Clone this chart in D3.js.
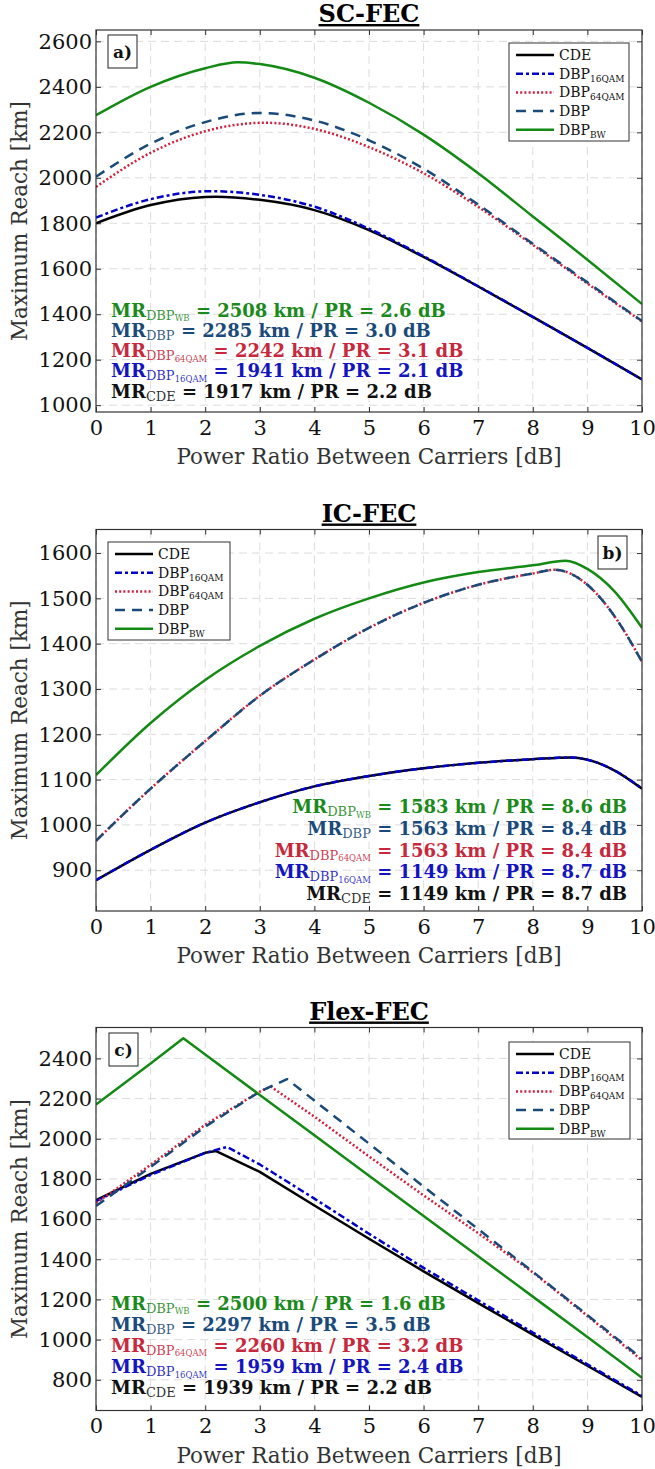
<!DOCTYPE html>
<html><head><meta charset="utf-8">
<script src="https://cdn.jsdelivr.net/npm/d3@7"></script>
<style>body{margin:0;background:#fff} svg{display:block} text{white-space:pre}</style>
</head><body>
<script>
// ---------- DATA ----------
const xTicks = [0,1,2,3,4,5,6,7,8,9,10];
const panelTitles = ["SC-FEC","IC-FEC","Flex-FEC"];
const panelLabels = ["a)","b)","c)"];
const yTicksA = [1000,1200,1400,1600,1800,2000,2200,2400,2600];
const yTicksB = [900,1000,1100,1200,1300,1400,1500,1600];
const yTicksC = [800,1000,1200,1400,1600,1800,2000,2200,2400];
const seriesNames = ["CDE","DBP16QAM","DBP64QAM","DBP","DBPBW"];
const legendMain = ["CDE","DBP","DBP","DBP","DBP"];
const legendSub  = ["","16QAM","64QAM","","BW"];
// annotation order: BW, DBP, DBP64, DBP16, CDE
const noteSub1 = ["DBP","DBP","DBP","DBP","CDE"];
const noteSub2 = ["WB","","64QAM","16QAM",""];

// Panel a (SC-FEC)
const scCDE   = [[0,1800],[1,1880],[2,1916],[2.2,1917],[3,1903],[4,1858],[5,1770],[6,1652],[7,1522],[8,1388],[9,1252],[10,1113]];
const scDBP16 = [[0,1825],[1,1906],[2.1,1941],[3,1925],[4,1873],[5,1776],[6,1655],[7,1523],[8,1388],[9,1252],[10,1113]];
const scDBP64 = [[0,1960],[1,2110],[2,2205],[3.1,2242],[4,2215],[5,2135],[6,2020],[7,1872],[8,1705],[9,1535],[10,1368]];
const scDBP   = [[0,2005],[1,2150],[2,2245],[3,2285],[4,2252],[5,2165],[6,2040],[7,1882],[8,1710],[9,1540],[10,1370]];
const scBW    = [[0,2275],[1,2400],[2,2482],[2.6,2508],[3,2500],[4,2440],[5,2330],[6,2190],[7,2020],[8,1830],[9,1640],[10,1445]];
const scMR = [2508,2285,2242,1941,1917];
const scPR = ["2.6","3.0","3.1","2.1","2.2"];

// Panel b (IC-FEC)
const icCDE   = [[0,878],[1,945],[2,1005],[3,1050],[4,1085],[5,1108],[6,1125],[7,1137],[8,1145],[8.7,1149],[9,1144],[9.5,1120],[10,1080]];
const icDBP16 = [[0,878],[1,945],[2,1005],[3,1050],[4,1085],[5,1108],[6,1125],[7,1137],[8,1145],[8.7,1149],[9,1144],[9.5,1120],[10,1080]];
const icDBP64 = [[0,965],[1,1080],[2,1185],[3,1285],[4,1365],[5,1435],[6,1490],[7,1530],[8,1555],[8.4,1563],[9,1530],[9.5,1460],[10,1360]];
const icDBP   = [[0,965],[1,1080],[2,1185],[3,1285],[4,1365],[5,1435],[6,1490],[7,1530],[8,1555],[8.4,1563],[9,1530],[9.5,1460],[10,1360]];
const icBW    = [[0,1110],[1,1225],[2,1320],[3,1395],[4,1455],[5,1500],[6,1535],[7,1558],[8,1573],[8.6,1583],[9,1565],[9.5,1515],[10,1435]];
const icMR = [1583,1563,1563,1149,1149];
const icPR = ["8.6","8.4","8.4","8.7","8.7"];

// Panel c (Flex-FEC)
const flCDE   = [[0,1695],[1,1825],[2,1930],[2.2,1939],[3,1835],[4,1668],[5,1502],[6,1340],[7,1182],[8,1025],[9,870],[10,715]];
const flDBP16 = [[0,1690],[1,1820],[2,1930],[2.4,1959],[3,1872],[4,1702],[5,1527],[6,1357],[7,1195],[8,1035],[9,877],[10,720]];
const flDBP64 = [[0,1680],[1,1870],[2,2070],[3,2235],[3.2,2260],[4,2110],[5,1912],[6,1718],[7,1530],[8,1335],[9,1118],[10,897]];
const flDBP   = [[0,1665],[1,1860],[2,2060],[3,2235],[3.5,2297],[4,2190],[5,1976],[6,1762],[7,1550],[8,1338],[9,1122],[10,905]];
const flBW    = [[0,2170],[1,2375],[1.6,2500],[2,2420],[3,2218],[4,2017],[5,1816],[6,1615],[7,1415],[8,1214],[9,1013],[10,810]];
const flMR = [2500,2297,2260,1959,1939];
const flPR = ["1.6","3.5","3.2","2.4","2.2"];

// ---------- STYLE / LAYOUT ----------
const W = 655, H = 1469;
const FONT = "'DejaVu Serif', 'Liberation Serif', serif";
const colors = ["#000000","#0000c8","#d0203c","#1a4a7a","#138a13"];
const noteColors = ["#1a8a1a","#1a4a7a","#c8283c","#1414c0","#111111"];
const dashes = [null,"7,3,3,3","2,2.2","10,7",null];

const panels = [
  {top:30, bottom:412, dom:[970,2650], yt:yTicksA, series:[scCDE,scDBP16,scDBP64,scDBP,scBW], mr:scMR, pr:scPR,
   curve:d3.curveMonotoneX, legend:{x:509,y:43,w:120,h:98}, label:{x:108,y:35}, notes:{x:111,y:310.5,dy:20.3,anchor:"start"}},
  {top:529.5, bottom:911, dom:[810,1652], yt:yTicksB, series:[icCDE,icDBP16,icDBP64,icDBP,icBW], mr:icMR, pr:icPR,
   curve:d3.curveMonotoneX, legend:{x:108,y:542,w:122,h:98}, label:{x:598,y:536}, notes:{x:627,y:807,dy:21.8,anchor:"end"}},
  {top:1027.5, bottom:1410.5, dom:[647,2554], yt:yTicksC, series:[flCDE,flDBP16,flDBP64,flDBP,flBW], mr:flMR, pr:flPR,
   curve:d3.curveLinear, legend:{x:509,y:1042,w:121,h:97}, label:{x:109,y:1033}, notes:{x:111,y:1303.5,dy:21.2,anchor:"start"}}
];
const L = 96, R = 642;

const svg = d3.select("body").append("svg").attr("width",W).attr("height",H).style("font-family",FONT);

// add one line of rich text (tspans) to a text element: first tspan sets x,y (new chunk), rest use relative dy
function richLine(t, x, y, parts, color){
  let cur = 0;
  parts.forEach((p,j)=>{
    const ts = t.append("tspan").text(p.t).attr("font-size",p.s).attr("font-weight",p.w||"normal").attr("fill",color);
    const off = p.dy||0;
    if (j===0) ts.attr("x",x).attr("y",y+off);
    else if (off-cur) ts.attr("dy",off-cur);
    cur = off;
    if (p.o) ts.attr("fill-opacity",p.o);
  });
}

panels.forEach((P,pi)=>{
  const g = svg.append("g");
  const x = d3.scaleLinear().domain([0,10]).range([L,R]);
  const y = d3.scaleLinear().domain(P.dom).range([P.bottom,P.top]);
  const cid = "clip"+pi;
  svg.append("clipPath").attr("id",cid).append("rect").attr("x",L).attr("y",P.top).attr("width",R-L).attr("height",P.bottom-P.top);

  // grid
  const grid = g.append("g").attr("stroke","#dcdcdc").attr("stroke-width",1).attr("stroke-dasharray","8,5");
  xTicks.forEach(t=>grid.append("line").attr("x1",x(t)).attr("x2",x(t)).attr("y1",P.top).attr("y2",P.bottom));
  P.yt.forEach(t=>grid.append("line").attr("x1",L).attr("x2",R).attr("y1",y(t)).attr("y2",y(t)));

  // axes
  const tk = 5;
  const axB = g.append("g").attr("transform",`translate(0,${P.bottom})`).call(d3.axisBottom(x).tickValues(xTicks).tickSizeInner(-tk).tickSizeOuter(0).tickPadding(8).tickFormat(d3.format("d")));
  const axL = g.append("g").attr("transform",`translate(${L},0)`).call(d3.axisLeft(y).tickValues(P.yt).tickSizeInner(-tk).tickSizeOuter(0).tickPadding(4).tickFormat(d3.format("d")));
  const axT = g.append("g").attr("transform",`translate(0,${P.top})`).call(d3.axisTop(x).tickValues(xTicks).tickSizeInner(-tk).tickSizeOuter(0).tickFormat(""));
  const axR = g.append("g").attr("transform",`translate(${R},0)`).call(d3.axisRight(y).tickValues(P.yt).tickSizeInner(-tk).tickSizeOuter(0).tickFormat(""));
  [axB,axL,axT,axR].forEach(a=>{
    a.select(".domain").remove();
    a.selectAll("line").attr("stroke","#333").attr("stroke-width",1);
    a.selectAll("text").attr("font-family",FONT).attr("font-size",21).attr("fill","#111");
  });
  axB.selectAll("text").attr("dy","0.71em");

  // curves
  const line = d3.line().x(d=>x(d[0])).y(d=>y(d[1])).curve(P.curve);
  const cg = g.append("g").attr("clip-path",`url(#${cid})`);
  P.series.forEach((s,i)=>{
    cg.append("path").datum(s).attr("d",line).attr("fill","none").attr("stroke",colors[i])
      .attr("stroke-width",2.5).attr("stroke-dasharray",dashes[i]).attr("stroke-linejoin","round");
  });

  // box
  g.append("rect").attr("x",L).attr("y",P.top).attr("width",R-L).attr("height",P.bottom-P.top)
    .attr("fill","none").attr("stroke","#333").attr("stroke-width",1.2);

  // title
  const cx = (L+R)/2;
  g.append("text").attr("x",cx).attr("y",P.top-8).attr("text-anchor","middle")
    .attr("font-size",24).attr("font-weight","bold").attr("fill","#000").attr("text-decoration","underline").text(panelTitles[pi]);

  // axis titles
  g.append("text").attr("x",cx).attr("y",P.bottom+52).attr("text-anchor","middle").attr("font-size",21.5).attr("fill","#333")
    .text("Power Ratio Between Carriers [dB]");
  g.append("text").attr("transform",`translate(27,${(P.top+P.bottom)/2}) rotate(-90)`).attr("text-anchor","middle")
    .attr("font-size",21.5).attr("fill","#333").text("Maximum Reach [km]");

  // panel label
  g.append("rect").attr("x",P.label.x).attr("y",P.label.y).attr("width",29).attr("height",33)
    .attr("fill","#fff").attr("stroke","#222").attr("stroke-width",1);
  g.append("text").attr("x",P.label.x+14.5).attr("y",P.label.y+23).attr("text-anchor","middle")
    .attr("font-size",17).attr("font-weight","bold").attr("fill","#111").text(panelLabels[pi]);

  // legend
  const lg = g.append("g");
  lg.append("rect").attr("x",P.legend.x).attr("y",P.legend.y).attr("width",P.legend.w).attr("height",P.legend.h)
    .attr("fill","#fff").attr("stroke","#333").attr("stroke-width",1);
  seriesNames.forEach((n,i)=>{
    const yy = P.legend.y + 12 + i*18.7;
    lg.append("line").attr("x1",P.legend.x+7).attr("x2",P.legend.x+45).attr("y1",yy).attr("y2",yy)
      .attr("stroke",colors[i]).attr("stroke-width",2.5).attr("stroke-dasharray",dashes[i]);
    const parts = [{t:legendMain[i],s:14}];
    if (legendSub[i]) parts.push({t:legendSub[i],s:9,dy:3});
    const t = lg.append("text");
    richLine(t, P.legend.x+50, yy+5, parts, "#111");
  });

  // annotations: one multi-line text block
  const nt = g.append("text").attr("text-anchor",P.notes.anchor);
  noteColors.forEach((c,k)=>{
    const yy = P.notes.y + 6 + k*P.notes.dy;
    const parts = [{t:"MR",s:18,w:"bold"}, {t:noteSub1[k],s:13,dy:3,o:0.9}];
    if (noteSub2[k]) parts.push({t:noteSub2[k],s:8.5,dy:4.5,o:0.9});
    parts.push({t:` = ${P.mr[k]} km / PR = ${P.pr[k]} dB`,s:18,w:"bold",dy:0});
    richLine(nt, P.notes.x, yy, parts, c);
  });
});
</script>
</body></html>
